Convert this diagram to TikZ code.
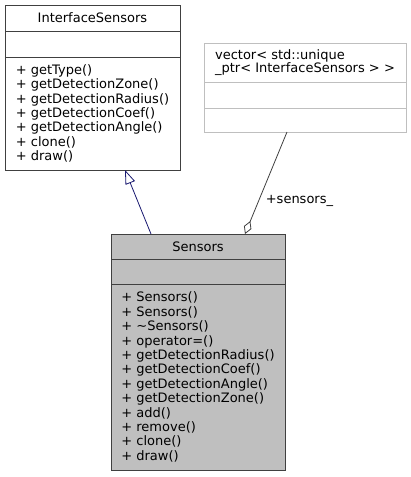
\documentclass[tikz,border=0pt]{standalone}
\usepackage{fontspec}
\setmainfont{DejaVu Sans}
\usetikzlibrary{arrows.meta,positioning}
\definecolor{edgegray}{HTML}{404040}
\definecolor{navyedge}{HTML}{191970}
\definecolor{classfill}{HTML}{BFBFBF}
\definecolor{lightframe}{HTML}{BFBFBF}
\tikzset{
    cell/.style      = {rectangle, draw=edgegray, line width=0.9pt, inner sep=0pt, outer sep=0pt,
                        font=\fontsize{13}{14.4}\selectfont, anchor=north west},
    lightcell/.style = {cell, draw=lightframe, line width=0.7pt},
    focuscell/.style = {cell, fill=classfill},
    oplist/.style    = {align=left},
    inherit/.style   = {-{Triangle[open, length=14pt, width=10pt]}, draw=navyedge, line width=0.8pt},
    aggr/.style      = {-{Diamond[open, length=14pt, width=8pt]}, draw=edgegray, line width=0.8pt},
    rolelabel/.style = {font=\fontsize{13}{14}\selectfont, inner sep=0pt}
}
\begin{document}
\begin{tikzpicture}[x=1pt, y=-1pt]
    \useasboundingbox (0,0) rectangle (411,477);
    % base class
    \node[cell, minimum width=175, minimum height=26]  (ifname) at (5,5) {InterfaceSensors};
    \node[cell, minimum width=175, minimum height=26]  (ifattr) at (ifname.south west) {};
    \node[cell, oplist, minimum width=175, minimum height=113] (ifops) at (ifattr.south west) {%
        + getType()\\
        + getDetectionZone()\\
        + getDetectionRadius()\\
        + getDetectionCoef()\\
        + getDetectionAngle()\\
        + clone()\\
        + draw()};
    % container
    \node[lightcell, oplist, minimum width=202, minimum height=39] (vecname) at (204,43) {%
        vector< std::unique\\[-1.1pt]
        \_ptr< InterfaceSensors > >};
    \node[lightcell, minimum width=202, minimum height=26] (vecattr) at (vecname.south west) {};
    \node[lightcell, minimum width=202, minimum height=24] (vecops)  at (vecattr.south west) {};
    % derived class
    \node[focuscell, minimum width=174, minimum height=25]  (sensname) at (111,234) {Sensors};
    \node[focuscell, minimum width=174, minimum height=25]  (sensattr) at (sensname.south west) {};
    \node[focuscell, oplist, minimum width=174, minimum height=186] (sensops) at (sensattr.south west) {%
        + Sensors()\\
        + Sensors()\\
        + \textasciitilde Sensors()\\
        + operator=()\\
        + getDetectionRadius()\\
        + getDetectionCoef()\\
        + getDetectionAngle()\\
        + getDetectionZone()\\
        + add()\\
        + remove()\\
        + clone()\\
        + draw()};
    % relations
    \draw[inherit] ([xshift=-47pt]sensname.north) -- ([xshift=32.5pt]ifops.south);
    \draw[aggr] ([xshift=-18pt]vecops.south) -- node[rolelabel, pos=0.68, right, xshift=7pt] {+sensors\_} ([xshift=47pt]sensname.north);
\end{tikzpicture}
\end{document}
